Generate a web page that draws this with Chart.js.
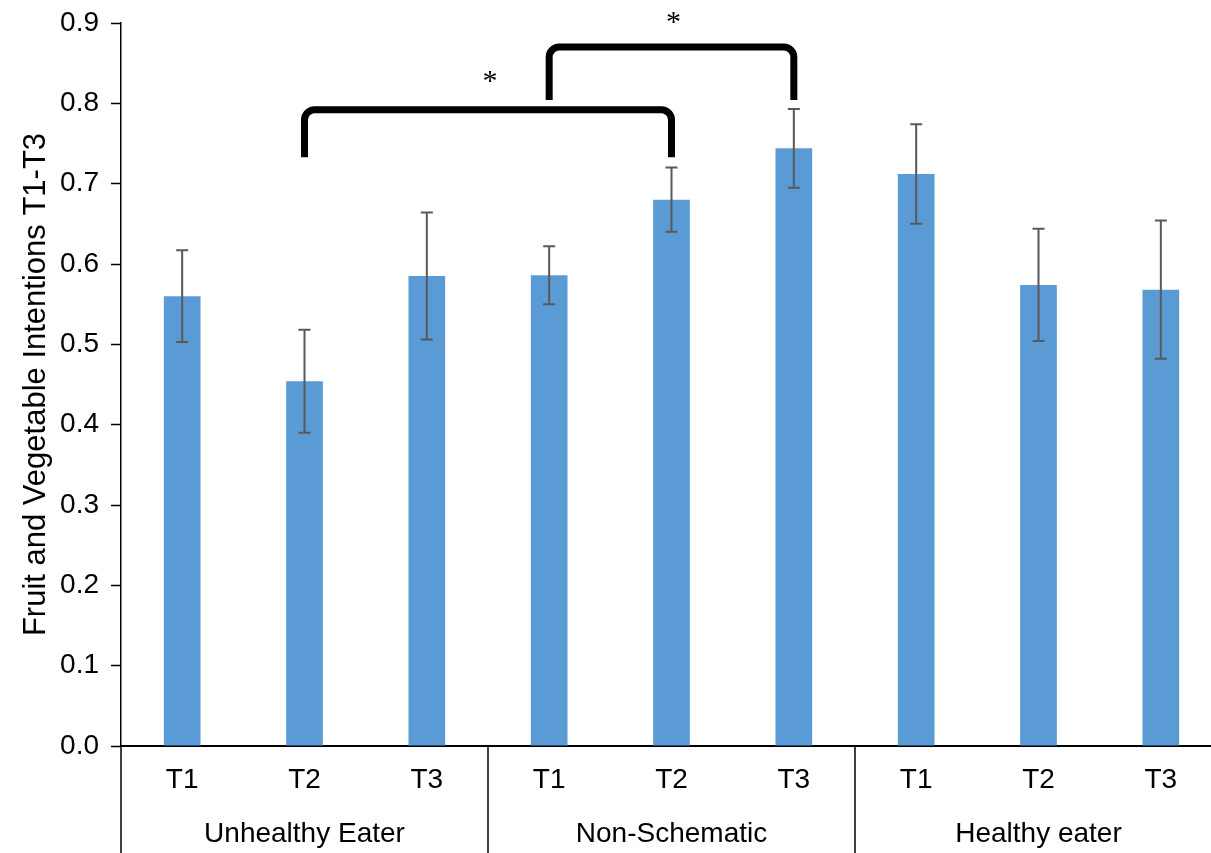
<!DOCTYPE html>
<html>
<head>
<meta charset="utf-8">
<script src="https://cdn.jsdelivr.net/npm/chart.js@4/dist/chart.umd.min.js"></script>
<style>
    html, body { margin: 0; padding: 0; background: #fff; overflow: hidden; }
</style>
</head>
<body>
<canvas id="chart" width="1222" height="853"></canvas>
<script>
// Data
const groups = ['Unhealthy Eater', 'Non-Schematic', 'Healthy eater'];
const times = ['T1', 'T2', 'T3'];
const means = [0.560, 0.454, 0.585, 0.586, 0.680, 0.744, 0.712, 0.574, 0.568];
const errors = [0.057, 0.064, 0.079, 0.036, 0.040, 0.049, 0.062, 0.070, 0.086];
const yTicks = [0.0, 0.1, 0.2, 0.3, 0.4, 0.5, 0.6, 0.7, 0.8, 0.9];

// Significance brackets: bar index from/to, top of bracket, bottom of legs, label height
const brackets = [
    { from: 1, to: 4, top: 0.792, leg: 0.733, star: 0.830 },
    { from: 3, to: 5, top: 0.870, leg: 0.804, star: 0.904 }
];

const labels = [];
groups.forEach(() => times.forEach(t => labels.push(t)));

const fontFamily = 'Arial, "Liberation Sans", sans-serif';

const extrasPlugin = {
    id: 'extras',
    afterDatasetsDraw(chart) {
        const ctx = chart.ctx;
        const x = chart.scales.x, y = chart.scales.y;

        // Error bars
        ctx.save();
        ctx.strokeStyle = '#595959';
        ctx.lineWidth = 2;
        for (let i = 0; i < means.length; i++) {
            let cx = x.getPixelForValue(i);
            let hi = y.getPixelForValue(means[i] + errors[i]);
            let lo = y.getPixelForValue(means[i] - errors[i]);
            ctx.beginPath();
            ctx.moveTo(cx, hi); ctx.lineTo(cx, lo);
            ctx.moveTo(cx - 6, hi); ctx.lineTo(cx + 6, hi);
            ctx.moveTo(cx - 6, lo); ctx.lineTo(cx + 6, lo);
            ctx.stroke();
        }
        ctx.restore();
    },
    afterDraw(chart) {
        const ctx = chart.ctx;
        const x = chart.scales.x, y = chart.scales.y;
        const area = chart.chartArea;
        const bottom = chart.height;

        // Group separators under the x axis
        ctx.save();
        ctx.strokeStyle = '#000';
        ctx.lineWidth = 1.5;
        let seps = [area.left];
        for (let g = 1; g < groups.length; g++) {
            let idx = g * times.length;
            seps.push((x.getPixelForValue(idx - 1) + x.getPixelForValue(idx)) / 2);
        }
        seps.forEach(sx => {
            ctx.beginPath();
            ctx.moveTo(sx, area.bottom);
            ctx.lineTo(sx, bottom);
            ctx.stroke();
        });

        // Group labels
        ctx.fillStyle = '#000';
        ctx.font = '28px ' + fontFamily;
        ctx.textAlign = 'center';
        ctx.textBaseline = 'middle';
        groups.forEach((name, g) => {
            let a = x.getPixelForValue(g * times.length);
            let b = x.getPixelForValue(g * times.length + times.length - 1);
            ctx.fillText(name, (a + b) / 2, 834);
        });

        // Significance brackets
        ctx.lineWidth = 7;
        ctx.lineJoin = 'round';
        brackets.forEach(br => {
            let x1 = x.getPixelForValue(br.from);
            let x2 = x.getPixelForValue(br.to);
            let yt = y.getPixelForValue(br.top);
            let yl = y.getPixelForValue(br.leg);
            ctx.beginPath();
            ctx.moveTo(x1, yl);
            ctx.arcTo(x1, yt, x2, yt, 10);
            ctx.arcTo(x2, yt, x2, yl, 10);
            ctx.lineTo(x2, yl);
            ctx.stroke();

            ctx.font = '30px "Liberation Serif", "Times New Roman", serif';
            ctx.fillText('*', (x1 + x2) / 2 + 2, y.getPixelForValue(br.star) + 3);
        });
        ctx.restore();
    }
};

new Chart(document.getElementById('chart'), {
    type: 'bar',
    data: {
        labels: labels,
        datasets: [{
            data: means,
            backgroundColor: '#5B9BD5',
            categoryPercentage: 1,
            barPercentage: 0.30
        }]
    },
    options: {
        responsive: false,
        animation: false,
        layout: { padding: { top: 23, left: 0, right: 0, bottom: 0 } },
        plugins: {
            legend: { display: false },
            tooltip: { enabled: false }
        },
        scales: {
            x: {
                grid: { display: false, drawTicks: false },
                border: { display: true, color: '#000', width: 2 },
                ticks: {
                    color: '#000',
                    font: { size: 28, family: fontFamily },
                    padding: 17,
                    maxRotation: 0
                },
                afterFit: scale => {
                    scale.height = 107;
                    scale.paddingLeft = 0;
                    scale.paddingRight = 0;
                }
            },
            y: {
                min: 0,
                max: 0.9,
                afterBuildTicks: scale => {
                    scale.ticks = yTicks.map(v => ({ value: v }));
                },
                grid: { drawOnChartArea: false, tickLength: 10, tickColor: '#000', tickWidth: 1.5 },
                border: { display: true, color: '#000', width: 1.5 },
                ticks: {
                    color: '#000',
                    font: { size: 28, family: fontFamily },
                    padding: 12,
                    callback: v => Number(v).toFixed(1)
                },
                title: {
                    display: true,
                    text: 'Fruit and Vegetable Intentions T1-T3',
                    color: '#000',
                    font: { size: 31, family: fontFamily },
                    padding: { top: 18, bottom: 0 }
                },
                afterFit: scale => {
                    scale.width = 121;
                    scale.paddingTop = 0;
                    scale.paddingBottom = 0;
                }
            }
        }
    },
    plugins: [extrasPlugin]
});
</script>
</body>
</html>
